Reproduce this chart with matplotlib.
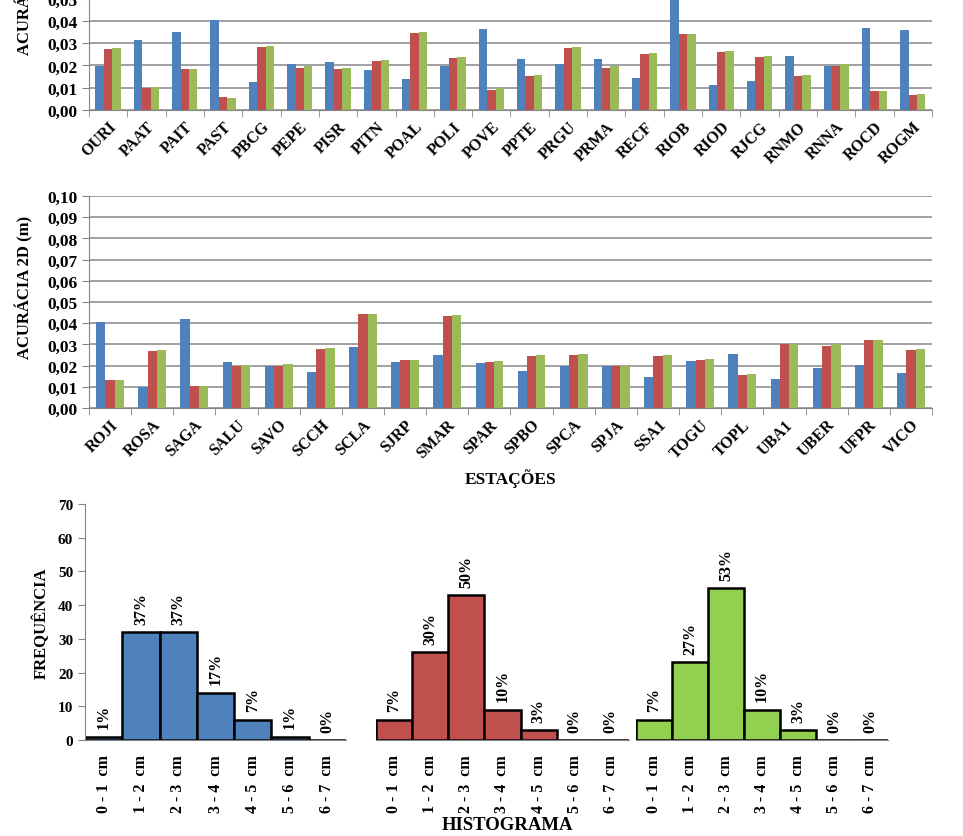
import matplotlib
matplotlib.use('Agg')
import matplotlib.pyplot as plt
import numpy as np
from matplotlib.ticker import FuncFormatter, MultipleLocator

plt.rcParams['font.family'] = ['Liberation Serif', 'DejaVu Serif']
plt.rcParams['font.weight'] = 'bold'

# --- station accuracy data (m) ---
stationsTop = ['OURI', 'PAAT', 'PAIT', 'PAST', 'PBCG', 'PEPE', 'PISR', 'PITN', 'POAL', 'POLI', 'POVE',
               'PPTE', 'PRGU', 'PRMA', 'RECF', 'RIOB', 'RIOD', 'RJCG', 'RNMO', 'RNNA', 'ROCD', 'ROGM']
blueTop = [0.0197, 0.0316, 0.0352, 0.0406, 0.0126, 0.0208, 0.0217, 0.0180, 0.0140, 0.0197, 0.0365,
           0.0230, 0.0208, 0.0230, 0.0144, 0.0520, 0.0113, 0.0131, 0.0244, 0.0197, 0.0370, 0.0361]
redTop = [0.0275, 0.0099, 0.0186, 0.0060, 0.0284, 0.0189, 0.0186, 0.0221, 0.0344, 0.0235, 0.0092,
          0.0153, 0.0280, 0.0189, 0.0253, 0.0340, 0.0262, 0.0239, 0.0153, 0.0197, 0.0086, 0.0068]
greenTop = [0.0280, 0.0104, 0.0186, 0.0054, 0.0289, 0.0198, 0.0189, 0.0226, 0.0349, 0.0239, 0.0098,
            0.0158, 0.0284, 0.0197, 0.0257, 0.0340, 0.0266, 0.0244, 0.0158, 0.0208, 0.0086, 0.0072]

stationsMid = ['ROJI', 'ROSA', 'SAGA', 'SALU', 'SAVO', 'SCCH', 'SCLA', 'SJRP', 'SMAR', 'SPAR',
               'SPBO', 'SPCA', 'SPJA', 'SSA1', 'TOGU', 'TOPL', 'UBA1', 'UBER', 'UFPR', 'VICO']
blueMid = [0.0406, 0.0099, 0.0420, 0.0218, 0.0197, 0.0171, 0.0288, 0.0218, 0.0251, 0.0213,
           0.0176, 0.0197, 0.0197, 0.0147, 0.0223, 0.0255, 0.0138, 0.0190, 0.0204, 0.0166]
redMid = [0.0133, 0.0270, 0.0105, 0.0197, 0.0197, 0.0279, 0.0444, 0.0227, 0.0434, 0.0218,
          0.0246, 0.0251, 0.0197, 0.0246, 0.0227, 0.0157, 0.0303, 0.0293, 0.0321, 0.0274]
greenMid = [0.0133, 0.0274, 0.0105, 0.0204, 0.0208, 0.0284, 0.0444, 0.0227, 0.0439, 0.0223,
            0.0251, 0.0255, 0.0197, 0.0251, 0.0232, 0.0161, 0.0303, 0.0303, 0.0321, 0.0279]

# --- histogram data ---
bins = ['0 - 1  cm', '1 - 2  cm', '2 - 3  cm', '3 - 4  cm', '4 - 5  cm', '5 - 6  cm', '6 - 7  cm']
freqBlue = [1, 32, 32, 14, 6, 1, 0]
freqRed = [6, 26, 43, 9, 3, 0, 0]
freqGreen = [6, 23, 45, 9, 3, 0, 0]
pctBlue = ['1%', '37%', '37%', '17%', '7%', '1%', '0%']
pctRed = ['7%', '30%', '50%', '10%', '3%', '0%', '0%']
pctGreen = ['7%', '27%', '53%', '10%', '3%', '0%', '0%']

BLUE = '#4F81BD'
RED = '#C0504D'
GREEN = '#9BBB59'
GREEN_HIST = '#92D050'
GRID = '#868686'

fig = plt.figure(figsize=(9.63, 8.37), dpi=100)


def barChart(ax, stations, blue, red, green):
    x = np.arange(len(stations))
    w = 0.22
    ax.bar(x - w, blue, w, color=BLUE, zorder=2)
    ax.bar(x, red, w, color=RED, zorder=2)
    ax.bar(x + w, green, w, color=GREEN, zorder=2)
    ax.set_xlim(-0.5, len(stations) - 0.5)
    ax.set_ylim(0, 0.10)
    ax.yaxis.set_major_locator(MultipleLocator(0.01))
    ax.yaxis.set_major_formatter(FuncFormatter(lambda v, p: ('%.2f' % v).replace('.', ',')))
    ax.grid(axis='y', color=GRID, linewidth=1.1, zorder=0)
    ax.set_axisbelow(True)
    for s in ['top', 'right']:
        ax.spines[s].set_visible(False)
    for s in ['left', 'bottom']:
        ax.spines[s].set_color(GRID)
    ax.set_xticks(x)
    ax.set_xticklabels(stations, rotation=45, ha='right', rotation_mode='anchor', fontsize=11.5)
    ax.set_xticks(np.arange(-0.5, len(stations)), minor=True)
    ax.tick_params(axis='x', which='major', length=0, pad=6)
    ax.tick_params(axis='x', which='minor', length=5, color=GRID, direction='out')
    ax.tick_params(axis='y', length=5, color=GRID, labelsize=12.5, pad=3)
    ax.set_ylabel('ACURÁCIA 2D (m)', fontsize=12, fontweight='bold')
    ax.yaxis.set_label_coords(-0.066, 0.575)


ax1 = fig.add_axes([0.0924, 0.8674, 0.8754, 0.2658])
barChart(ax1, stationsTop, blueTop, redTop, greenTop)

ax2 = fig.add_axes([0.0924, 0.5113, 0.8754, 0.2533])
barChart(ax2, stationsMid, blueMid, redMid, greenMid)
fig.text(0.5306, 0.4277, 'ESTAÇÕES', ha='center', va='center', fontsize=12.5, fontweight='bold')


def histChart(ax, freq, pct, color, showY):
    x = np.arange(len(bins))
    ax.bar(x, freq, 1.0, color=color, edgecolor='black', linewidth=1.8, zorder=2)
    ax.set_xlim(-0.5, len(bins) - 0.5)
    ax.set_ylim(0, 70)
    for i in range(len(bins)):
        ax.annotate(pct[i], (x[i], freq[i]), xytext=(0, 6), textcoords='offset points',
                    rotation=90, ha='center', va='bottom', fontsize=11.5, fontweight='bold')
    ax.set_xticks(x)
    ax.set_xticklabels(bins, rotation=90, fontsize=11.5)
    ax.tick_params(axis='x', length=0, pad=10)
    for s in ['top', 'right']:
        ax.spines[s].set_visible(False)
    ax.spines['bottom'].set_color(GRID)
    if showY:
        ax.spines['left'].set_color(GRID)
        ax.yaxis.set_major_locator(MultipleLocator(10))
        ax.tick_params(axis='y', length=5, color=GRID, labelsize=11)
        ax.set_ylabel('FREQUÊNCIA', fontsize=12, fontweight='bold')
        ax.yaxis.set_label_coords(-0.134, 0.5)
    else:
        ax.spines['left'].set_visible(False)
        ax.set_yticks([])


h1 = fig.add_axes([0.0883, 0.1147, 0.271, 0.282])
histChart(h1, freqBlue, pctBlue, BLUE, True)
h2 = fig.add_axes([0.3904, 0.1147, 0.2627, 0.282])
histChart(h2, freqRed, pctRed, RED, False)
h3 = fig.add_axes([0.6604, 0.1147, 0.2617, 0.282])
histChart(h3, freqGreen, pctGreen, GREEN_HIST, False)
fig.text(0.5265, 0.0143, 'HISTOGRAMA', ha='center', va='center', fontsize=13.5, fontweight='bold')

fig.savefig('out.png', dpi=100)
